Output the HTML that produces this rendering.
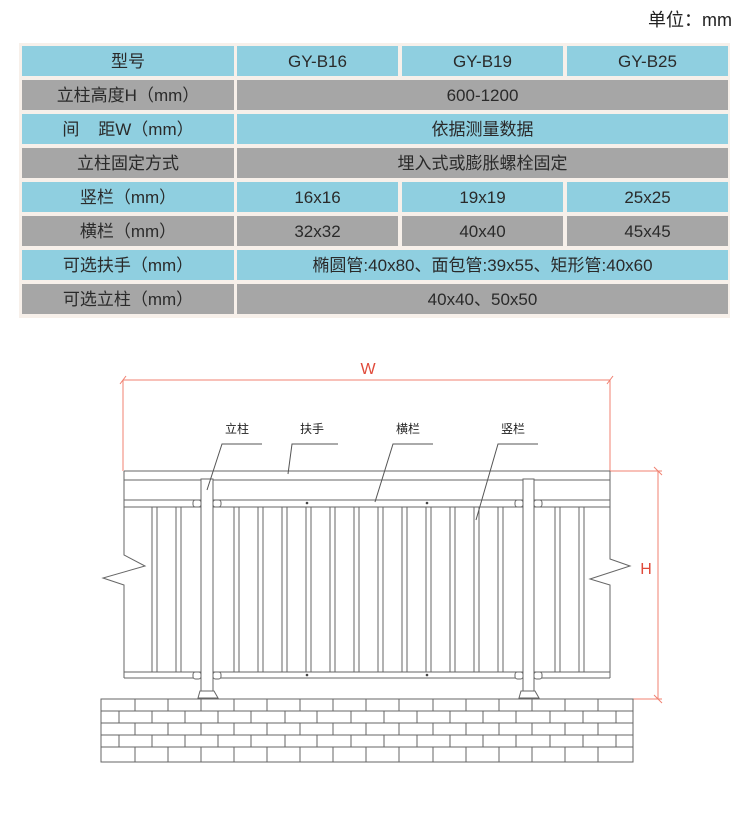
<!DOCTYPE html>
<html><head><meta charset="utf-8"><style>
body{margin:0;width:750px;height:813px;background:#fff;position:relative;overflow:hidden;font-family:"Liberation Sans","Noto Sans CJK SC",sans-serif;}
.c{position:absolute;height:30px;line-height:32px;text-align:center;font-size:17px;color:#2a2a2a;}
.b{background:#8fcfe0;}
.g{background:#a6a6a6;}
.unit{position:absolute;right:18px;top:6px;font-size:18px;color:#222;}
.tbl{position:absolute;left:19px;top:43px;width:711px;height:275px;background:#f7f0ea;}
</style></head><body>
<div class="unit">单位：mm</div>
<div class="tbl"></div>
<div class="c b" style="left:22px;top:46px;width:212px">型号</div>
<div class="c b" style="left:237px;top:46px;width:161px">GY-B16</div>
<div class="c b" style="left:402px;top:46px;width:161px">GY-B19</div>
<div class="c b" style="left:567px;top:46px;width:161px">GY-B25</div>

<div class="c g" style="left:22px;top:80px;width:212px">立柱高度H（mm）</div>
<div class="c g" style="left:237px;top:80px;width:491px">600-1200</div>

<div class="c b" style="left:22px;top:114px;width:212px">间&nbsp;&nbsp;&nbsp;&nbsp;距W（mm）</div>
<div class="c b" style="left:237px;top:114px;width:491px">依据测量数据</div>

<div class="c g" style="left:22px;top:148px;width:212px">立柱固定方式</div>
<div class="c g" style="left:237px;top:148px;width:491px">埋入式或膨胀螺栓固定</div>

<div class="c b" style="left:22px;top:182px;width:212px">竖栏（mm）</div>
<div class="c b" style="left:237px;top:182px;width:161px">16x16</div>
<div class="c b" style="left:402px;top:182px;width:161px">19x19</div>
<div class="c b" style="left:567px;top:182px;width:161px">25x25</div>

<div class="c g" style="left:22px;top:216px;width:212px">横栏（mm）</div>
<div class="c g" style="left:237px;top:216px;width:161px">32x32</div>
<div class="c g" style="left:402px;top:216px;width:161px">40x40</div>
<div class="c g" style="left:567px;top:216px;width:161px">45x45</div>

<div class="c b" style="left:22px;top:250px;width:212px">可选扶手（mm）</div>
<div class="c b" style="left:237px;top:250px;width:491px">椭圆管:40x80、面包管:39x55、矩形管:40x60</div>

<div class="c g" style="left:22px;top:284px;width:212px">可选立柱（mm）</div>
<div class="c g" style="left:237px;top:284px;width:491px">40x40、50x50</div>

<svg width="750" height="813" style="position:absolute;left:0;top:0" xmlns="http://www.w3.org/2000/svg">
<g stroke="#f08070" stroke-width="1" fill="none">
<line x1="123" y1="380" x2="610" y2="380"/>
<line x1="123" y1="380" x2="123" y2="471"/>
<line x1="610" y1="380" x2="610" y2="471"/>
<line x1="120" y1="384" x2="126" y2="376"/>
<line x1="607" y1="384" x2="613" y2="376"/>
<line x1="658" y1="471" x2="658" y2="699"/>
<line x1="610" y1="471" x2="662" y2="471"/>
<line x1="633" y1="699" x2="662" y2="699"/>
<line x1="654" y1="467" x2="662" y2="475"/>
<line x1="654" y1="695" x2="662" y2="703"/>
</g>
<text x="368" y="374" fill="#e04a3a" font-size="16" text-anchor="middle" font-family="Liberation Sans">W</text>
<text x="646" y="574" fill="#e04a3a" font-size="16" text-anchor="middle" font-family="Liberation Sans">H</text>

<g stroke="#666" stroke-width="1" fill="none">
<line x1="124" y1="471" x2="610" y2="471"/>
<line x1="124" y1="480" x2="610" y2="480"/>
<line x1="124" y1="500" x2="610" y2="500"/>
<line x1="124" y1="507" x2="610" y2="507"/>
<line x1="124" y1="672" x2="610" y2="672"/>
<line x1="124" y1="678" x2="610" y2="678"/>
<polyline points="124,471 124,540 124,555 145,566 103,578 124,585 124,678"/>
<polyline points="610,471 610,540 610,559 630,566 590,579 610,585 610,678"/>
</g>
<g stroke="#666" stroke-width="1" fill="#fff">
<rect x="152" y="507" width="5" height="165"/>
<rect x="176" y="507" width="5" height="165"/>
<rect x="234" y="507" width="5" height="165"/>
<rect x="258" y="507" width="5" height="165"/>
<rect x="282" y="507" width="5" height="165"/>
<rect x="306" y="507" width="5" height="165"/>
<rect x="330" y="507" width="5" height="165"/>
<rect x="354" y="507" width="5" height="165"/>
<rect x="378" y="507" width="5" height="165"/>
<rect x="402" y="507" width="5" height="165"/>
<rect x="426" y="507" width="5" height="165"/>
<rect x="450" y="507" width="5" height="165"/>
<rect x="474" y="507" width="5" height="165"/>
<rect x="498" y="507" width="5" height="165"/>
<rect x="555" y="507" width="5" height="165"/>
<rect x="579" y="507" width="5" height="165"/>
<rect x="201" y="479" width="12" height="212"/>
<rect x="523" y="479" width="11" height="212"/>
<path d="M198,698 L200,691 L214,691 L218,698 Z"/>
<path d="M519,698 L521,691 L535,691 L539,698 Z"/>
<rect x="193" y="500" width="8" height="7" rx="2.5"/>
<rect x="213" y="500" width="8" height="7" rx="2.5"/>
<rect x="193" y="672" width="8" height="7" rx="2.5"/>
<rect x="213" y="672" width="8" height="7" rx="2.5"/>
<rect x="515" y="500" width="8" height="7" rx="2.5"/>
<rect x="534" y="500" width="8" height="7" rx="2.5"/>
<rect x="515" y="672" width="8" height="7" rx="2.5"/>
<rect x="534" y="672" width="8" height="7" rx="2.5"/>
</g>
<g fill="#444">
<circle cx="307" cy="503" r="1.3"/><circle cx="307" cy="675" r="1.3"/>
<circle cx="427" cy="503" r="1.3"/><circle cx="427" cy="675" r="1.3"/>
</g>
<g stroke="#666" stroke-width="1" fill="none">
<rect x="101" y="699" width="532" height="63"/>
<line x1="101" y1="711" x2="633" y2="711"/>
<line x1="101" y1="723" x2="633" y2="723"/>
<line x1="101" y1="735" x2="633" y2="735"/>
<line x1="101" y1="747" x2="633" y2="747"/>
<path d="M135,699v12M168,699v12M201,699v12M234,699v12M267,699v12M300,699v12M333,699v12M366,699v12M399,699v12M433,699v12M466,699v12M499,699v12M532,699v12M565,699v12M598,699v12"/>
<path d="M135,723v12M168,723v12M201,723v12M234,723v12M267,723v12M300,723v12M333,723v12M366,723v12M399,723v12M433,723v12M466,723v12M499,723v12M532,723v12M565,723v12M598,723v12"/>
<path d="M135,747v15M168,747v15M201,747v15M234,747v15M267,747v15M300,747v15M333,747v15M366,747v15M399,747v15M433,747v15M466,747v15M499,747v15M532,747v15M565,747v15M598,747v15"/>
<path d="M119,711v12M152,711v12M185,711v12M218,711v12M251,711v12M285,711v12M317,711v12M351,711v12M384,711v12M417,711v12M450,711v12M483,711v12M516,711v12M550,711v12M583,711v12M616,711v12"/>
<path d="M119,735v12M152,735v12M185,735v12M218,735v12M251,735v12M285,735v12M317,735v12M351,735v12M384,735v12M417,735v12M450,735v12M483,735v12M516,735v12M550,735v12M583,735v12M616,735v12"/>
</g>
<g stroke="#555" stroke-width="1" fill="none">
<polyline points="262,444 222,444 207,490"/>
<polyline points="338,444 292,444 288,474"/>
<polyline points="433,444 393,444 375,502"/>
<polyline points="538,444 498,444 476,520"/>
</g>
<g font-size="12" fill="#222" text-anchor="middle" font-family="Liberation Sans,Noto Sans CJK SC,sans-serif">
<text x="237" y="433">立柱</text>
<text x="312" y="433">扶手</text>
<text x="408" y="433">横栏</text>
<text x="513" y="433">竖栏</text>
</g>
</svg>
</body></html>
